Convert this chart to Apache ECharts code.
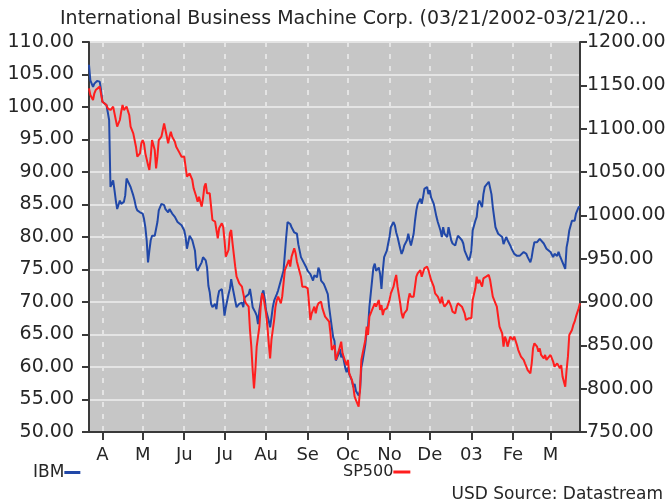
<!DOCTYPE html>
<html><head><meta charset="utf-8">
<script src="https://cdn.jsdelivr.net/npm/echarts@6/dist/echarts.min.js"></script>
<style>html,body{margin:0;padding:0;background:#fff}#c{width:669px;height:499px}</style>
</head><body><div id="c"></div>
<script>
// Dates are stored as day offsets from 2002-03-21
const axisStartDay = 1, axisEndDay = 367;
const tickMonths = ['2002-04','2002-05','2002-06','2002-07','2002-08','2002-09','2002-10','2002-11','2002-12','2003-01','2003-02','2003-03'];
const tickLabels = ['A','M','Ju','Ju','Au','Se','Oc','No','De','03','Fe','M'];

const ibmDays = [1,2,4,5,7,8,9,10,11,12,14,15,16,17,19,20,21,22,24,25,27,28,29,30,32,34,35,36,37,39,41,42,43,44,45,46,47,48,50,51,52,53,55,56,57,58,60,61,62,63,65,66,67,68,70,72,73,74,75,76,77,78,80,81,82,83,85,86,87,88,89,90,91,92,93,95,96,97,98,100,101,102,103,105,106,107,108,110,111,112,113,115,116,117,118,120,121,122,123,125,126,127,128,130,131,132,133,135,136,137,138,139,141,142,143,144,146,147,148,149,151,152,153,154,156,157,158,159,161,162,163,164,166,167,168,169,171,172,173,174,176,177,178,179,180,182,183,184,185,187,188,189,190,192,193,194,195,197,198,199,200,202,203,204,205,207,208,209,210,212,213,214,215,217,218,219,220,221,223,224,225,226,228,229,230,231,233,234,235,236,238,239,240,241,243,244,245,246,248,249,250,251,253,254,255,256,258,259,260,261,263,264,265,266,268,269,270,271,272,274,275,276,277,279,280,281,282,284,285,286,287,289,290,291,292,294,295,296,297,299,300,301,302,304,305,306,307,309,310,311,312,313,315,316,317,318,320,321,322,323,325,326,327,328,330,331,332,333,335,336,337,338,340,341,342,343,345,346,347,348,350,351,352,353,354,356,357,358,359,361,362,363,364,366,367];
const ibmValues = [106.5,104.1,103.1,103.6,104.0,104.2,103.9,102.6,100.8,100.5,100.3,99.2,98.0,87.7,88.7,87.2,85.6,84.3,85.6,85.1,85.4,86.4,89.0,88.7,87.7,86.4,85.6,84.6,84.1,83.8,83.6,82.8,81.5,79.5,76.1,77.9,79.5,80.2,80.2,80.0,82.3,84.1,85.1,85.4,84.9,84.3,83.8,84.3,84.1,83.6,83.1,82.8,82.3,82.0,81.8,81.0,80.0,78.2,79.2,80.2,80.5,79.5,77.9,75.3,74.8,75.3,76.1,76.9,77.1,76.4,75.3,72.5,71.5,69.7,69.2,69.7,68.9,70.7,71.7,72.0,70.2,67.9,69.2,71.2,72.0,73.5,72.3,70.2,69.2,68.9,69.7,69.9,69.2,70.7,71.0,71.2,72.0,70.7,69.2,68.4,67.9,66.6,68.7,71.2,71.8,70.5,68.7,67.1,66.1,67.6,69.2,70.2,71.2,71.8,72.0,73.3,74.8,77.4,80.0,82.3,82.0,81.5,81.8,80.7,80.5,78.9,77.9,76.9,76.1,76.4,75.3,74.8,74.3,73.8,73.3,74.1,73.8,75.3,74.8,73.3,72.8,72.3,72.0,71.2,69.2,66.1,64.6,64.0,61.0,62.0,62.8,61.5,62.0,59.9,59.2,59.9,58.9,57.9,56.9,57.4,56.3,55.6,56.3,59.9,61.0,63.5,65.6,66.1,69.2,73.3,75.3,75.9,74.8,75.3,74.3,72.0,74.8,76.9,77.9,79.0,80.0,81.5,82.3,81.8,80.7,80.0,78.2,77.4,77.9,78.7,79.5,80.5,79.5,78.7,80.5,82.5,84.1,85.1,85.9,85.1,86.1,87.4,87.7,86.6,87.2,86.1,85.1,84.1,83.1,82.3,81.0,80.0,81.5,80.5,80.0,81.5,80.5,79.5,79.0,78.7,79.5,80.2,80.0,79.5,79.0,77.9,77.4,76.4,76.9,77.9,81.0,82.5,83.1,85.1,85.6,84.6,86.6,87.7,87.7,88.5,88.2,86.6,84.6,81.5,81.0,80.5,80.7,80.0,78.9,78.7,80.0,79.5,78.7,78.2,77.9,77.4,77.1,77.4,77.1,77.4,77.7,77.4,77.4,76.9,76.1,76.9,78.2,79.2,79.2,79.5,79.7,79.5,79.0,78.7,78.2,77.9,77.7,77.4,76.9,77.4,77.1,77.7,77.1,77.4,76.1,75.1,78.4,79.5,81.0,82.5,82.3,82.5,83.6,84.6,84.6];

const spDays = [1,2,4,5,6,7,9,10,11,12,14,15,17,19,20,21,22,24,25,26,27,29,30,31,32,34,36,37,39,40,41,42,43,45,46,47,48,50,51,52,53,55,56,57,58,60,61,62,63,65,66,68,70,72,73,74,76,78,79,81,82,83,85,86,87,88,89,91,92,93,95,96,97,98,100,101,102,103,105,106,107,108,110,111,112,113,115,116,117,118,120,121,122,123,124,125,126,128,129,130,131,133,134,135,136,137,139,140,141,142,144,145,146,147,149,150,151,152,154,155,156,157,159,160,161,162,164,165,166,167,169,170,171,172,174,175,176,177,178,180,181,182,183,184,185,187,188,189,190,192,193,194,195,197,198,199,200,202,203,204,205,207,208,209,210,212,213,214,215,217,218,219,220,221,223,224,225,226,228,229,230,231,233,234,235,236,238,239,240,241,243,244,245,246,248,249,250,251,253,254,255,256,258,259,260,261,263,264,265,266,268,269,270,271,272,274,275,276,277,279,280,281,282,284,285,286,287,289,290,291,292,294,295,296,297,299,300,301,302,304,305,306,307,309,310,311,312,313,315,316,317,318,320,321,322,323,325,326,327,328,330,331,332,333,335,336,337,338,340,341,342,343,345,346,347,348,350,351,352,353,354,356,357,358,359,361,362,363,364,366,367];
const spValues = [1146.5,1138.8,1133.1,1140.8,1144.6,1142.7,1148.5,1146.5,1131.1,1129.2,1127.3,1123.5,1121.5,1125.4,1117.7,1110.0,1102.3,1110.0,1119.6,1127.3,1121.5,1125.4,1123.5,1115.8,1102.3,1094.6,1079.2,1067.7,1071.5,1083.1,1086.9,1083.1,1071.5,1058.1,1052.3,1067.7,1086.9,1075.4,1054.2,1067.7,1086.9,1090.8,1098.5,1106.1,1098.5,1083.1,1090.8,1096.5,1090.8,1085.0,1079.2,1073.5,1067.7,1067.7,1056.1,1044.6,1048.5,1040.8,1031.2,1021.5,1015.8,1021.5,1010.0,1019.6,1033.1,1036.9,1025.4,1025.4,1010.0,994.6,992.7,983.1,973.5,985.0,990.8,986.9,971.5,952.3,960.0,979.2,983.1,967.7,940.8,929.2,925.4,921.5,917.7,910.0,902.3,898.5,894.6,867.7,848.5,821.5,800.4,821.5,848.5,871.5,894.6,910.0,906.2,886.9,871.5,852.3,835.0,856.2,879.2,894.6,902.3,906.2,898.5,906.2,921.5,936.9,944.6,948.5,940.8,952.3,961.9,956.2,946.5,940.8,929.2,917.7,917.7,917.7,915.8,898.5,879.2,886.9,894.6,886.9,894.6,898.5,900.4,892.7,890.8,883.1,881.2,877.3,863.8,844.6,842.7,850.4,833.1,842.7,844.6,854.2,840.8,831.2,827.3,833.1,817.7,810.0,802.3,790.8,786.9,779.2,798.5,833.1,840.8,856.2,871.5,861.9,883.1,890.8,890.8,898.5,894.6,902.3,890.8,896.5,885.0,890.8,892.7,894.6,902.3,910.0,917.7,925.4,931.2,917.7,898.5,886.9,881.2,886.9,890.8,902.3,910.0,906.2,906.2,917.7,929.2,933.1,936.9,929.2,931.2,938.9,940.8,936.9,931.2,925.4,917.7,910.0,910.0,906.2,898.5,906.2,898.5,894.6,898.5,902.3,898.5,894.6,888.8,886.9,894.6,898.5,896.5,894.6,892.7,886.9,879.2,881.2,881.2,881.2,902.3,915.8,929.2,921.5,925.4,917.7,927.3,929.2,929.2,931.2,925.4,915.8,906.2,898.5,894.6,883.1,871.5,863.8,848.5,860.0,856.2,848.5,860.0,860.0,856.2,860.0,850.4,844.6,840.8,836.9,833.1,829.2,825.4,821.5,817.7,829.2,846.5,852.3,848.5,842.7,846.5,838.9,835.0,838.9,833.1,835.0,838.9,840.8,831.2,825.4,829.2,829.2,823.5,827.3,813.9,802.3,821.5,836.9,861.9,867.7,873.5,877.3,883.1,892.7,898.5];

function dayToTime(d) { return new Date(2002, 2, 21 + d).getTime(); }
function pairs(days, vals) { return days.map((d, i) => [dayToTime(d), vals[i]]); }

const chart = echarts.init(document.getElementById('c'), null, {renderer: 'canvas'});
const FONT = 'DejaVu Sans';
const TXT = '#262626';
chart.setOption({
  animation: false,
  backgroundColor: '#ffffff',
  textStyle: {fontFamily: FONT},
  title: [
    {text: 'International Business Machine Corp. (03/21/2002-03/21/20...', left: 55, top: 5,
     textStyle: {fontFamily: FONT, fontSize: 19, fontWeight: 'normal', color: TXT}},
    {text: 'USD Source: Datastream', right: 1, top: 481,
     textStyle: {fontFamily: FONT, fontSize: 17, fontWeight: 'normal', color: TXT}}
  ],
  legend: [
    {data: ['IBM'], left: 28, top: 459, align: 'right', icon: 'rect', itemWidth: 16, itemHeight: 3, itemGap: 0,
     textStyle: {fontFamily: FONT, fontSize: 17, color: TXT, padding: [0, -5, 0, 0]}},
    {data: ['SP500'], left: 338, top: 459, align: 'right', icon: 'rect', itemWidth: 17, itemHeight: 3, itemGap: 0,
     textStyle: {fontFamily: FONT, fontSize: 16, color: TXT, padding: [0, -5, 0, 0]}}
  ],
  grid: {left: 89, top: 42, width: 491, height: 390, show: true, backgroundColor: '#c6c6c6',
         borderColor: '#3a3a3a', borderWidth: 2, containLabel: false},
  xAxis: {
    type: 'time', min: dayToTime(axisStartDay), max: dayToTime(axisEndDay),
    minInterval: 28 * 864e5, maxInterval: 31 * 864e5,
    axisLine: {lineStyle: {color: '#3a3a3a', width: 2}},
    axisTick: {show: true, length: 8, lineStyle: {color: '#3a3a3a', width: 2}},
    axisLabel: {
      fontFamily: FONT, fontSize: 18, color: TXT, margin: 14, hideOverlap: false,
      showMinLabel: false, showMaxLabel: false,
      formatter: function (v) {
        const d = new Date(v);
        const key = d.getFullYear() + '-' + String(d.getMonth() + 1).padStart(2, '0');
        const i = tickMonths.indexOf(key);
        return (i >= 0 && d.getDate() === 1) ? tickLabels[i] : '';
      }
    },
    splitLine: {show: true, lineStyle: {color: '#e4e4e4', width: 2, type: [5, 7]}}
  },
  yAxis: [
    {type: 'value', min: 50, max: 110, interval: 5, position: 'left',
     axisLine: {show: true, lineStyle: {color: '#3a3a3a', width: 2}},
     axisTick: {show: true, length: 7, lineStyle: {color: '#3a3a3a', width: 2}},
     axisLabel: {fontFamily: FONT, fontSize: 19, color: TXT, margin: 15, formatter: v => v.toFixed(2)},
     splitLine: {show: true, lineStyle: {color: '#e4e4e4', width: 2}}},
    {type: 'value', min: 750, max: 1200, interval: 50, position: 'right',
     axisLine: {show: true, lineStyle: {color: '#3a3a3a', width: 2}},
     axisTick: {show: true, length: 7, lineStyle: {color: '#3a3a3a', width: 2}},
     axisLabel: {fontFamily: FONT, fontSize: 19, color: TXT, margin: 7, formatter: v => v.toFixed(2)},
     splitLine: {show: false}}
  ],
  series: [
    {name: 'IBM', type: 'line', yAxisIndex: 0, data: pairs(ibmDays, ibmValues), showSymbol: false, symbol: 'none',
     lineStyle: {color: '#2148a8', width: 2}, itemStyle: {color: '#2148a8'}},
    {name: 'SP500', type: 'line', yAxisIndex: 1, data: pairs(spDays, spValues), showSymbol: false, symbol: 'none',
     lineStyle: {color: '#ff1e1e', width: 2}, itemStyle: {color: '#ff1e1e'}}
  ]
});
</script></body></html>
